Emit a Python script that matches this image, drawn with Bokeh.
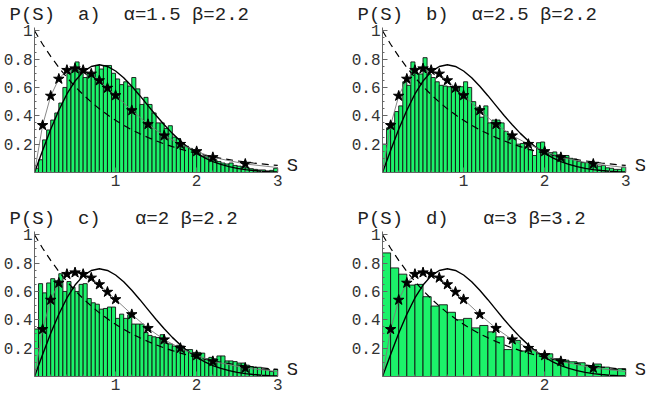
from bokeh.plotting import figure
from bokeh.layouts import column, row
from bokeh.models import Range1d, FixedTicker
from bokeh.core.properties import value
from bokeh.embed import file_html
from bokeh.resources import INLINE

# ---------------- data ----------------
bin_width_abc = 0.05
bin_width_d = 0.1

hist_a = [0.03, 0.09, 0.23, 0.30, 0.37, 0.42, 0.49, 0.60, 0.70, 0.73,
          0.78, 0.71, 0.67, 0.70, 0.70, 0.755, 0.73, 0.755, 0.755, 0.70,
          0.66, 0.62, 0.64, 0.61, 0.67, 0.59, 0.48, 0.53, 0.48, 0.42,
          0.35, 0.35, 0.31, 0.33, 0.25, 0.24, 0.20, 0.185, 0.17, 0.16,
          0.145, 0.115, 0.11, 0.095, 0.09, 0.078, 0.067, 0.06, 0.067, 0.05,
          0.045, 0.04, 0.033, 0.027, 0.022, 0.018, 0.018, 0.011, 0.015, 0.03]

hist_b = [0.20, 0.315, 0.35, 0.43, 0.47, 0.64, 0.615, 0.78, 0.70, 0.695,
          0.81, 0.695, 0.67, 0.64, 0.615, 0.61, 0.605, 0.60, 0.59, 0.605,
          0.64, 0.60, 0.50, 0.46, 0.39, 0.47, 0.35, 0.37, 0.37, 0.35,
          0.29, 0.255, 0.24, 0.20, 0.205, 0.18, 0.16, 0.12, 0.21, 0.215,
          0.15, 0.14, 0.145, 0.125, 0.12, 0.12, 0.10, 0.095, 0.078, 0.07,
          0.07, 0.078, 0.055, 0.045, 0.05, 0.033, 0.03, 0.022, 0.022, 0.038]

hist_c = [0.335, 0.655, 0.59, 0.66, 0.69, 0.675, 0.725, 0.60, 0.67, 0.63,
          0.60, 0.65, 0.655, 0.55, 0.52, 0.51, 0.475, 0.48, 0.49, 0.49,
          0.41, 0.44, 0.41, 0.435, 0.37, 0.37, 0.37, 0.31, 0.29, 0.28,
          0.275, 0.295, 0.235, 0.23, 0.215, 0.22, 0.215, 0.19, 0.19, 0.17,
          0.17, 0.165, 0.125, 0.135, 0.125, 0.145, 0.145, 0.11, 0.11, 0.105,
          0.095, 0.095, 0.08, 0.07, 0.065, 0.065, 0.05, 0.05, 0.035, 0.05]

hist_d = [0.872, 0.766, 0.722, 0.645, 0.65, 0.563, 0.497, 0.506, 0.453, 0.40,
          0.41, 0.343, 0.36, 0.315, 0.28, 0.19, 0.255, 0.18, 0.19, 0.16,
          0.16, 0.126, 0.115, 0.104, 0.097, 0.077, 0.088, 0.066, 0.049, 0.055]

# reference curves (read along S = 0, 0.1, ..., 3.0)
curve_s = [0.0, 0.1, 0.2, 0.3, 0.4, 0.5, 0.6, 0.7, 0.8, 0.9, 1.0,
           1.1, 1.2, 1.3, 1.4, 1.5, 1.6, 1.7, 1.8, 1.9, 2.0,
           2.1, 2.2, 2.3, 2.4, 2.5, 2.6, 2.7, 2.8, 2.9, 3.0]
poisson_p = [1.0, 0.905, 0.819, 0.741, 0.670, 0.607, 0.549, 0.497, 0.449, 0.407, 0.368,
             0.333, 0.301, 0.273, 0.247, 0.223, 0.202, 0.183, 0.165, 0.150, 0.135,
             0.122, 0.111, 0.100, 0.091, 0.082, 0.074, 0.067, 0.061, 0.055, 0.050]
wigner_p = [0.0, 0.156, 0.305, 0.439, 0.554, 0.645, 0.710, 0.748, 0.760, 0.748, 0.716,
            0.668, 0.608, 0.542, 0.472, 0.402, 0.337, 0.276, 0.222, 0.175, 0.136,
            0.103, 0.077, 0.057, 0.041, 0.029, 0.020, 0.014, 0.009, 0.006, 0.004]

star_s = [0.1, 0.2, 0.3, 0.4, 0.5, 0.6, 0.7, 0.8, 0.9, 1.0,
          1.2, 1.4, 1.6, 1.8, 2.0, 2.2, 2.6]
star_p = [0.333, 0.54, 0.66, 0.722, 0.733, 0.722, 0.696, 0.649, 0.596, 0.544,
          0.438, 0.34, 0.26, 0.20, 0.149, 0.107, 0.06]
star_line_s = [0.0] + star_s + [3.0]
star_line_p = [0.0] + star_p + [0.035]

y_ticks = [0.2, 0.4, 0.6, 0.8, 1.0]
y_tick_labels = ["0.2", "0.4", "0.6", "0.8", "1"]
y_minor = [0.05 * i for i in range(1, 21)]
x_ticks = [1, 2, 3]
x_tick_labels = ["1", "2", "3"]
x_ticks_d = [2]
x_tick_labels_d = ["2"]
x_minor = [0.2 * i for i in range(1, 16)]

NB = "\u00a0"
titles = ["P(S)" + NB * 2 + "a)" + NB * 2 + "\u03b1=1.5" + NB + "\u03b2=2.2",
          "P(S)" + NB * 2 + "b)" + NB * 2 + "\u03b1=2.5" + NB + "\u03b2=2.2",
          "P(S)" + NB * 2 + "c)" + NB * 3 + "\u03b1=2" + NB + "\u03b2=2.2",
          "P(S)" + NB * 2 + "d)" + NB * 3 + "\u03b1=3" + NB + "\u03b2=3.2"]

FONT = "Liberation Mono"
GREEN = "#1cf26a"
AXIS_COL = "#666666"
X_END = 3.244


def make_panel(hist, bw, title, xt, xl, width, height,
               b_top, b_bottom, b_left, b_right):
    p = figure(width=width, height=height, output_backend="svg",
               toolbar_location=None, x_range=Range1d(0, X_END),
               y_range=Range1d(0, 1.03),
               min_border_left=b_left, min_border_right=b_right,
               min_border_top=b_top, min_border_bottom=b_bottom)
    p.grid.visible = False
    p.outline_line_color = None
    p.background_fill_color = "white"
    p.border_fill_color = "white"

    p.title.text = title
    p.title.align = "left"
    p.title.offset = -25
    p.title.standoff = 2
    p.title.text_font = FONT
    p.title.text_font_size = "19px"
    p.title.text_font_style = "normal"
    p.title.text_color = "#222222"
    p.title.vertical_align = "bottom"

    lefts = [i * bw for i in range(len(hist))]
    rights = [(i + 1) * bw for i in range(len(hist))]
    p.quad(left=lefts, right=rights, bottom=0, top=hist,
           fill_color=GREEN, line_color="#111111", line_width=0.9)

    p.line(curve_s, poisson_p, line_color="black", line_width=1.2,
           line_dash="7 5")
    p.line(curve_s, wigner_p, line_color="black", line_width=1.4)
    p.line(star_line_s, star_line_p, line_color="#7a7a7a", line_width=0.9)
    p.scatter(star_s, star_p, marker="star", size=11, fill_color="black",
              line_color="black")

    p.text(x=[3.0], y=[0.0], text=["S"], x_offset=9, y_offset=4,
           text_font=value(FONT), text_font_size="19px",
           text_color="#222222", text_baseline="bottom", text_align="left")

    # axes
    ya = p.yaxis[0]
    ya.ticker = FixedTicker(ticks=y_ticks, minor_ticks=y_minor)
    ya.major_label_overrides = dict(zip(y_ticks, y_tick_labels))
    ya.bounds = (0, 1.02)
    xa = p.xaxis[0]
    xa.ticker = FixedTicker(ticks=xt, minor_ticks=x_minor)
    xa.major_label_overrides = dict(zip(xt, xl))
    xa.bounds = (0, 3)
    for ax in (ya, xa):
        ax.axis_line_color = AXIS_COL
        ax.axis_line_width = 1
        ax.major_tick_in = 5
        ax.major_tick_out = 0
        ax.minor_tick_in = 2
        ax.minor_tick_out = 0
        ax.major_tick_line_color = AXIS_COL
        ax.minor_tick_line_color = AXIS_COL
        ax.major_label_text_font = FONT
        ax.major_label_text_font_size = "16px"
        ax.major_label_text_color = "#333333"
        ax.major_label_standoff = 2
    return p


pa = make_panel(hist_a, bin_width_abc, titles[0], x_ticks, x_tick_labels,
                348, 204, 24, 32, 31, 51)
pb = make_panel(hist_b, bin_width_abc, titles[1], x_ticks, x_tick_labels,
                299, 204, 24, 32, 31, 2)
pc = make_panel(hist_c, bin_width_abc, titles[2], x_ticks, x_tick_labels,
                348, 192, 24, 20, 31, 51)
pd = make_panel(hist_d, bin_width_d, titles[3], x_ticks_d, x_tick_labels_d,
                299, 192, 24, 20, 31, 2)

layout = column(row(pa, pb), row(pc, pd))

open("out.html", "w").write(file_html(layout, INLINE))
